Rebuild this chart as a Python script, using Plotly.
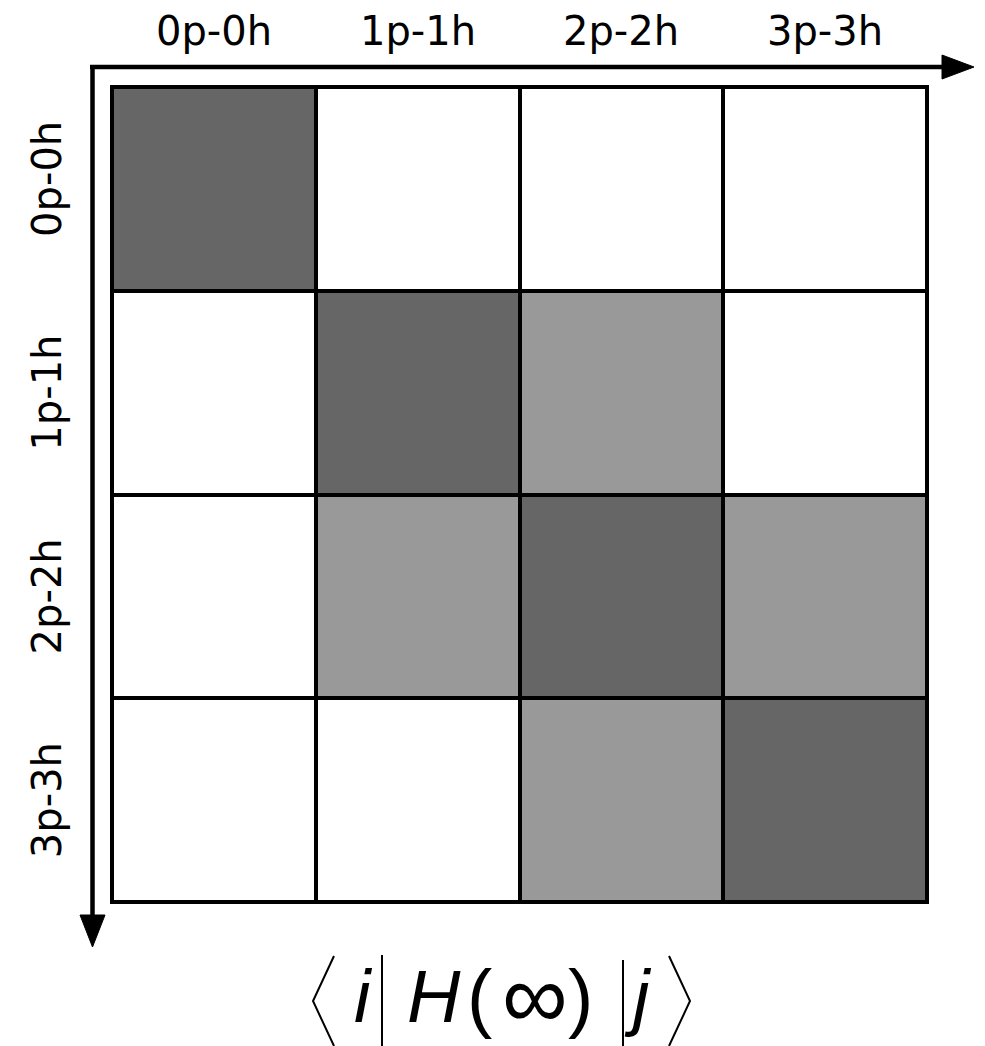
import plotly.graph_objects as go

# ---- data ----
states = ["0p-0h", "1p-1h", "2p-2h", "3p-3h"]
# coupling strength: 0 = none (white), 1 = off-diagonal (light gray), 2 = diagonal (dark gray)
coupling = [
    [2, 0, 0, 0],
    [0, 2, 1, 0],
    [0, 1, 2, 1],
    [0, 0, 1, 2],
]
level_colors = ["#ffffff", "#999999", "#666666"]

OFF = 8  # default page body margin
W, H = 985, 1046
L, R, T, B = 112, 927, 87, 902
PW, PH = R - L, B - T


def px(x):
    return (x - L) / PW


def py(y):
    return (B - y) / PH


colorscale = [
    [0.0, level_colors[0]], [1 / 3, level_colors[0]],
    [1 / 3, level_colors[1]], [2 / 3, level_colors[1]],
    [2 / 3, level_colors[2]], [1.0, level_colors[2]],
]

fig = go.Figure(go.Heatmap(
    z=coupling,
    x=list(range(len(states))),
    y=list(range(len(states))),
    colorscale=colorscale,
    zmin=-0.5, zmax=2.5,
    showscale=False,
    xgap=4, ygap=4,
    hoverinfo="skip",
))

fig.update_layout(
    width=W - OFF, height=H - OFF,
    margin=dict(l=L - OFF, r=W - R, t=T - OFF, b=H - B),
    paper_bgcolor="white",
    plot_bgcolor="black",
    showlegend=False,
    xaxis=dict(range=[-0.5, 3.5], showgrid=False, zeroline=False,
               showticklabels=False, ticks=""),
    yaxis=dict(range=[3.5, -0.5], showgrid=False, zeroline=False,
               showticklabels=False, ticks=""),
)

label_font = dict(family="DejaVu Sans", size=40, color="black")
annotations = []
for i, s in enumerate(states):
    annotations.append(dict(text=s, xref="x", x=i, yref="paper", y=py(31),
                            xanchor="center", yanchor="middle",
                            showarrow=False, font=label_font))
    annotations.append(dict(text=s, xref="paper", x=px(47), yref="y", y=i,
                            xanchor="center", yanchor="middle", textangle=-90,
                            yshift=10 if i == 0 else 0,
                            showarrow=False, font=label_font))

# formula  <i| H(inf) |j>
formula_parts = [
    ("<i>i</i>", 363, 74),
    ("<i>H</i>", 434, 74),
    ("(", 479, 76),
    ("∞", 535, 92),
    (")", 580, 76),
    ("<i>j</i>", 638, 74),
]
for txt, xc, fs in formula_parts:
    annotations.append(dict(text=txt, xref="paper", x=px(xc), yref="paper",
                            y=py(996), xanchor="center", yanchor="middle",
                            showarrow=False,
                            font=dict(family="Liberation Sans", size=fs, color="black")))

fig.update_layout(annotations=annotations)

shapes = []
# outer frame of grid
shapes.append(dict(type="rect", xref="paper", yref="paper", x0=0, x1=1, y0=0, y1=1,
                   line=dict(color="black", width=4), fillcolor="rgba(0,0,0,0)"))
# axis arrows
shapes.append(dict(type="line", xref="paper", yref="paper",
                   x0=px(90), x1=px(946), y0=py(67), y1=py(67),
                   line=dict(color="black", width=4.5)))
shapes.append(dict(type="path", xref="paper", yref="paper",
                   path=f"M {px(942)},{py(55)} L {px(974)},{py(67)} L {px(942)},{py(79)} Z",
                   fillcolor="black", line=dict(color="black", width=1)))
shapes.append(dict(type="line", xref="paper", yref="paper",
                   x0=px(92.5), x1=px(92.5), y0=py(65), y1=py(918),
                   line=dict(color="black", width=4.5)))
shapes.append(dict(type="path", xref="paper", yref="paper",
                   path=f"M {px(80)},{py(915)} L {px(92.5)},{py(947)} L {px(105)},{py(915)} Z",
                   fillcolor="black", line=dict(color="black", width=1)))

# bra-ket delimiters
def poly(pts):
    return "M " + " L ".join(f"{px(a)},{py(b)}" for a, b in pts)

br = dict(color="black", width=2)
shapes.append(dict(type="path", xref="paper", yref="paper",
                   path=poly([(334, 956), (313, 1001), (334, 1046)]), line=br))
shapes.append(dict(type="path", xref="paper", yref="paper",
                   path=poly([(669, 956), (690, 1001), (669, 1046)]), line=br))
shapes.append(dict(type="line", xref="paper", yref="paper",
                   x0=px(382), x1=px(382), y0=py(955), y1=py(1046), line=br))
shapes.append(dict(type="line", xref="paper", yref="paper",
                   x0=px(623), x1=px(623), y0=py(960), y1=py(1046), line=br))

fig.update_layout(shapes=shapes)

fig.write_html("out.html")
